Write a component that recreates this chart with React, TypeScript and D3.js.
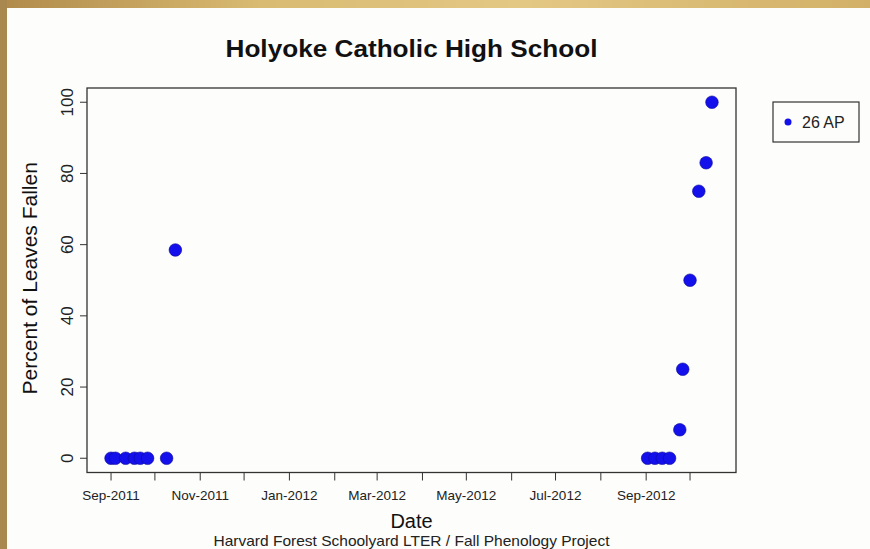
import * as d3 from "d3";

// observation dates and percent of leaves fallen (tree 26 AP)
const dates = [
  "2011-09-01", "2011-09-04", "2011-09-11", "2011-09-17", "2011-09-21",
  "2011-09-26", "2011-10-09", "2011-10-15",
  "2012-09-02", "2012-09-07", "2012-09-12", "2012-09-17", "2012-09-24",
  "2012-09-26", "2012-10-01", "2012-10-07", "2012-10-12", "2012-10-16",
];
const percentFallen = [0, 0, 0, 0, 0, 0, 0, 58.5, 0, 0, 0, 0, 8, 25, 50, 75, 83, 100];
const yTicks = [0, 20, 40, 60, 80, 100];
const seriesName = "26 AP";

const W = 870;
const H = 549;
const box = { left: 87, right: 736, top: 88, bottom: 472.5 };
const blue = "#1410ec";
const font = "'Liberation Sans', Arial, sans-serif";

export default function App() {
  const parse = d3.timeParse("%Y-%m-%d");
  const pts = dates.map((d, i) => ({ date: parse(d) as Date, v: percentFallen[i] }));

  // R-style 4% padding on both axes
  const [d0, d1] = d3.extent(pts, (p) => p.date) as [Date, Date];
  const padX = (0.04 * (box.right - box.left)) / 1.08;
  const x = d3.scaleTime().domain([d0, d1]).range([box.left + padX, box.right - padX]);
  const padY = (0.04 * (box.bottom - box.top)) / 1.08;
  const y = d3.scaleLinear().domain([0, 100]).range([box.bottom - padY, box.top + padY]);

  const months = d3.timeMonth.range(new Date(2011, 8, 1), new Date(2012, 10, 1));
  const fmt = d3.timeFormat("%b-%Y");
  const midX = (box.left + box.right) / 2;

  return (
    <svg
      width={W}
      height={H}
      style={{ position: "absolute", left: 0, top: 0, fontFamily: font }}
    >
      <defs>
        <linearGradient id="tan" x1="0" x2="1" y1="0" y2="0">
          <stop offset="0" stopColor="#b08a4a" />
          <stop offset="0.3" stopColor="#d9bb72" />
          <stop offset="0.6" stopColor="#e3c884" />
          <stop offset="1" stopColor="#d2b067" />
        </linearGradient>
      </defs>
      <rect x={0} y={0} width={W} height={H} fill="url(#tan)" />
      <rect x={0} y={0} width={7} height={H} fill="#a9884f" />
      <rect x={7} y={8} width={W - 7} height={H - 8} fill="#fdfdfb" />

      <text
        x={midX}
        y={57}
        textAnchor="middle"
        fontSize={23}
        fontWeight="bold"
        fill="#111"
        textLength={372}
        lengthAdjust="spacingAndGlyphs"
      >
        Holyoke Catholic High School
      </text>

      <rect
        x={box.left}
        y={box.top}
        width={box.right - box.left}
        height={box.bottom - box.top}
        fill="none"
        stroke="#333"
        strokeWidth={1.3}
      />

      {yTicks.map((t) => (
        <g key={t}>
          <line x1={box.left - 7} x2={box.left} y1={y(t)} y2={y(t)} stroke="#333" />
          <text
            transform={`translate(${box.left - 14},${y(t)}) rotate(-90)`}
            textAnchor="middle"
            fontSize={17}
            fill="#222"
          >
            {t}
          </text>
        </g>
      ))}

      {months.map((m, i) => (
        <g key={i}>
          <line x1={x(m)} x2={x(m)} y1={box.bottom} y2={box.bottom + 8} stroke="#333" />
          {i % 2 === 0 && (
            <text x={x(m)} y={500} textAnchor="middle" fontSize={13.5} fill="#222">
              {fmt(m)}
            </text>
          )}
        </g>
      ))}

      <text
        transform={`translate(37,${(box.top + box.bottom) / 2 - 2}) rotate(-90)`}
        textAnchor="middle"
        fontSize={21}
        fill="#111"
      >
        Percent of Leaves Fallen
      </text>
      <text x={midX} y={528} textAnchor="middle" fontSize={20} fill="#111">
        Date
      </text>
      <text
        x={midX}
        y={545.5}
        textAnchor="middle"
        fontSize={14.5}
        fill="#222"
        textLength={396}
        lengthAdjust="spacingAndGlyphs"
      >
        Harvard Forest Schoolyard LTER / Fall Phenology Project
      </text>

      {pts.map((p, i) => (
        <circle key={i} cx={x(p.date)} cy={y(p.v)} r={6.3} fill={blue} stroke="#0a0a9a" strokeWidth={0.6} />
      ))}

      <rect x={773} y={102} width={86} height={40} fill="none" stroke="#333" strokeWidth={1.2} />
      <circle cx={788} cy={122} r={3.5} fill={blue} />
      <text x={802} y={128} fontSize={16} fill="#222">
        {seriesName}
      </text>
    </svg>
  );
}
